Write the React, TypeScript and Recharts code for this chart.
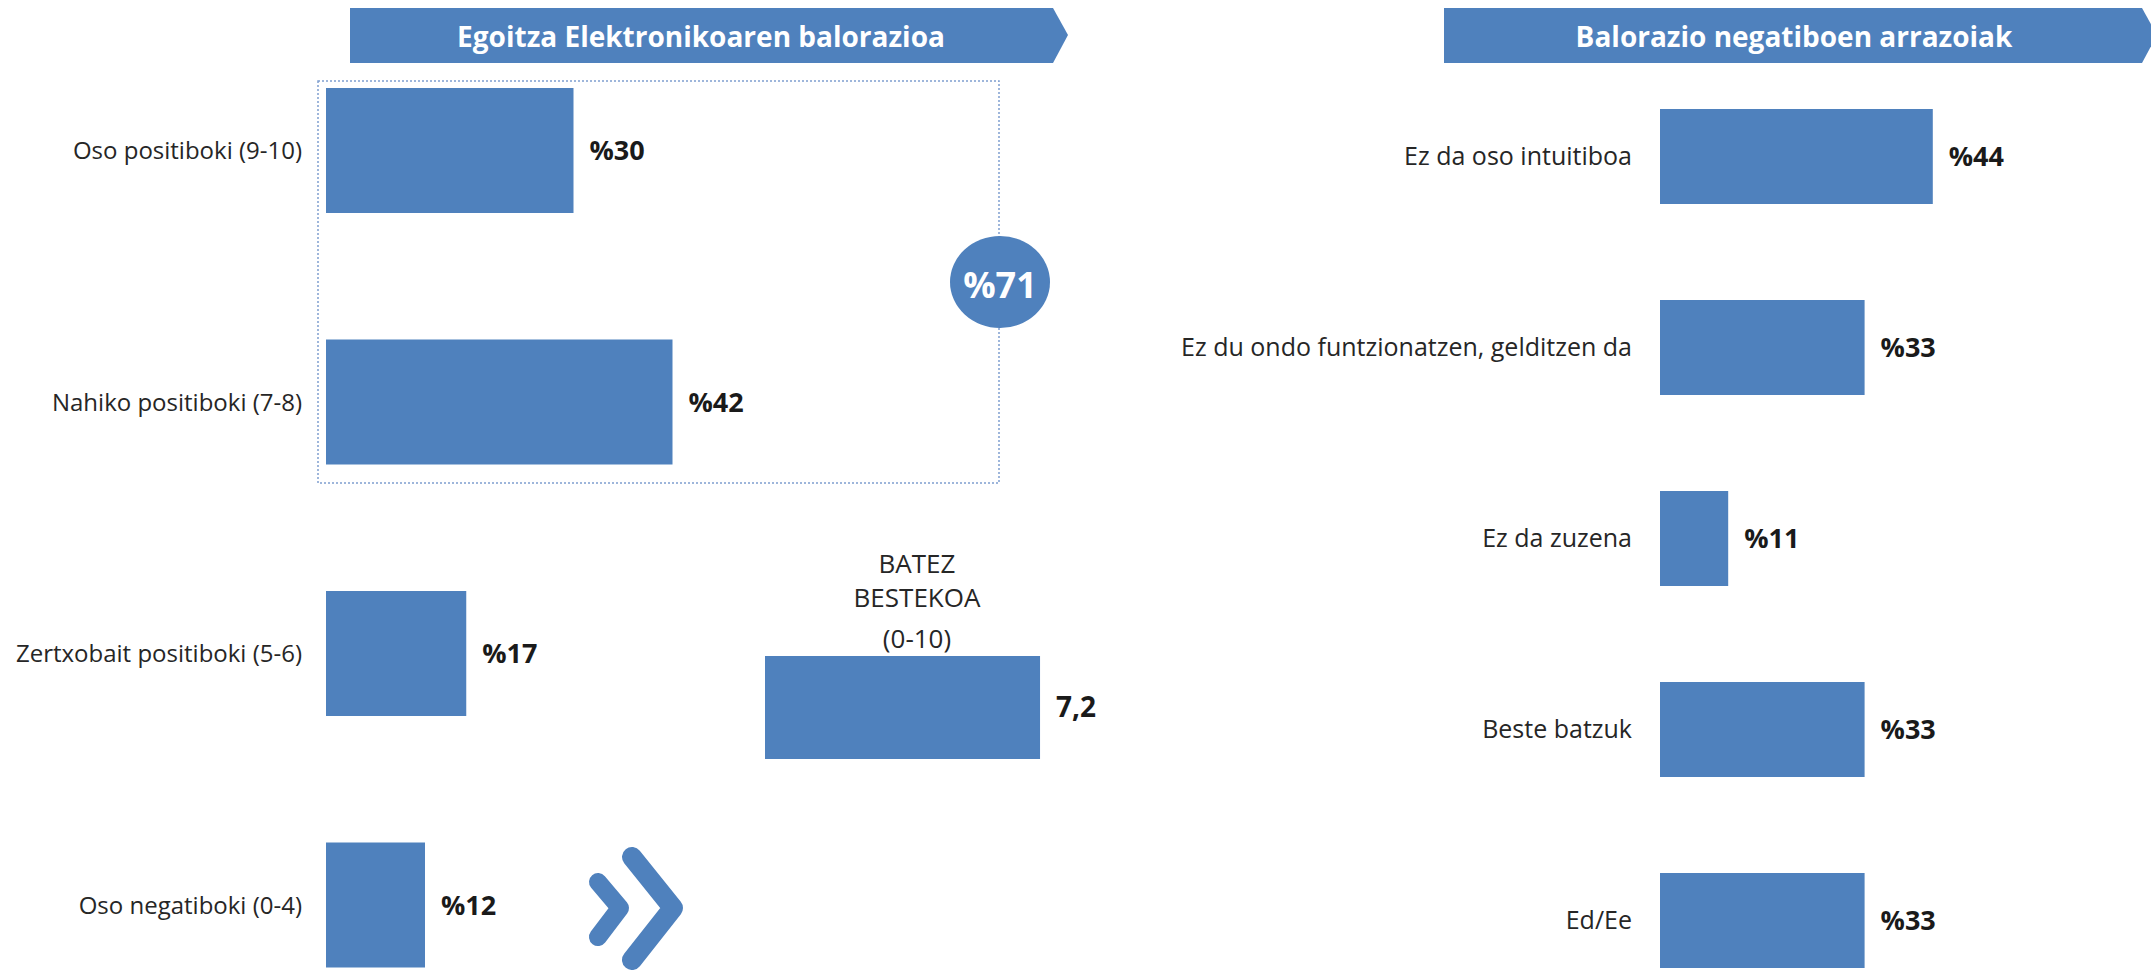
import React from 'react';
import { BarChart, Bar, XAxis, YAxis, LabelList } from 'recharts';

const FONT = '"Open Sans", "DejaVu Sans", sans-serif';
const BLUE = '#4F81BD';
const TEXT = '#262626';

// Left panel: overall rating of the e-office
const ratingTitle = 'Egoitza Elektronikoaren balorazioa';
const ratingCategories = ['Oso positiboki (9-10)', 'Nahiko positiboki (7-8)', 'Zertxobait positiboki (5-6)', 'Oso negatiboki (0-4)'];
const ratingValues = [30, 42, 17, 12];
const positiveTotal = 71;

// Middle: average score
const averageLines = ['BATEZ', 'BESTEKOA', '(0-10)'];
const averageValues = [7.2];

// Right panel: reasons for negative ratings
const reasonsTitle = 'Balorazio negatiboen arrazoiak';
const reasonCategories = ['Ez da oso intuitiboa', 'Ez du ondo funtzionatzen, gelditzen da', 'Ez da zuzena', 'Beste batzuk', 'Ed/Ee'];
const reasonValues = [44, 33, 11, 33, 33];

const ratingData = ratingCategories.map((name, i) => ({ name, value: ratingValues[i] }));
const averageData = averageValues.map((value) => ({ name: 'avg', value }));
const reasonData = reasonCategories.map((name, i) => ({ name, value: reasonValues[i] }));

const pct = (v: any) => `%${v}`;
const comma = (v: any) => String(v).replace('.', ',');

const valueStyle = { fill: '#1a1a1a', fontSize: 27, fontWeight: 700, fontFamily: FONT };

function Overlay() {
    return (
        <svg width={2151} height={970} style={{ position: 'absolute', left: 0, top: 0 }}>
            {/* title banners */}
            <polygon points="350,8 1053,8 1068,35 1053,63 350,63" fill={BLUE} />
            <text x={701} y={36} fill="#fff" fontSize={28} fontWeight={700} fontFamily={FONT} textAnchor="middle" dominantBaseline="central">
                {ratingTitle}
            </text>
            <polygon points="1444,8 2142,8 2157,35 2142,63 1444,63" fill={BLUE} />
            <text x={1794} y={36} fill="#fff" fontSize={28} fontWeight={700} fontFamily={FONT} textAnchor="middle" dominantBaseline="central">
                {reasonsTitle}
            </text>

            {/* positive group box */}
            <rect x={318} y={81} width={681} height={402} fill="none" stroke="#7f9fcf" strokeWidth={1.5} strokeDasharray="2 2" />
            <ellipse cx={1000} cy={282} rx={50} ry={46} fill={BLUE} />
            <text x={1000} y={284} fill="#fff" fontSize={36} fontWeight={700} fontFamily={FONT} textAnchor="middle" dominantBaseline="central">
                {`%${positiveTotal}`}
            </text>

            {/* average heading */}
            {averageLines.map((line, i) => (
                <text key={line} x={917} y={[563, 597, 638][i]} fill={TEXT} fontSize={26} fontFamily={FONT} textAnchor="middle" dominantBaseline="central">
                    {line}
                </text>
            ))}

            {/* chevrons */}
            <polyline points="598,882 620,908 598,937" fill="none" stroke={BLUE} strokeWidth={18} strokeLinecap="round" strokeLinejoin="round" />
            <polyline points="632,857 673,908 632,960" fill="none" stroke={BLUE} strokeWidth={20} strokeLinecap="round" strokeLinejoin="round" />
        </svg>
    );
}

export default function App() {
    return (
        <div style={{ position: 'absolute', left: 0, top: 0, width: 2151, height: 970, overflow: 'hidden', background: '#fff' }}>
            <Overlay />

            <div style={{ position: 'absolute', left: 0, top: 0 }}>
                <BarChart width={1151} height={1031} data={ratingData} layout="vertical" margin={{ top: 25, right: 0, left: 0, bottom: 0 }}>
                    <XAxis type="number" domain={[0, 100]} hide />
                    <YAxis type="category" dataKey="name" width={326} tickLine={false} axisLine={false} tickMargin={18}
                        tick={{ fill: TEXT, fontSize: 24, fontFamily: FONT }} />
                    <Bar dataKey="value" fill={BLUE} barSize={125} isAnimationActive={false}>
                        <LabelList dataKey="value" position="right" offset={16} formatter={pct} style={valueStyle} />
                    </Bar>
                </BarChart>
            </div>

            <div style={{ position: 'absolute', left: 765, top: 656 }}>
                <BarChart width={462} height={103} data={averageData} layout="vertical" barCategoryGap={0} margin={{ top: 0, right: 80, left: 0, bottom: 0 }}>
                    <XAxis type="number" domain={[0, 10]} hide />
                    <YAxis type="category" dataKey="name" hide />
                    <Bar dataKey="value" fill={BLUE} isAnimationActive={false}>
                        <LabelList dataKey="value" position="right" offset={16} formatter={comma} style={{ ...valueStyle, fontSize: 28 }} />
                    </Bar>
                </BarChart>
            </div>

            <div style={{ position: 'absolute', left: 1100, top: 0 }}>
                <BarChart width={1180} height={1016} data={reasonData} layout="vertical" margin={{ top: 61, right: 0, left: 0, bottom: 0 }}>
                    <XAxis type="number" domain={[0, 100]} hide />
                    <YAxis type="category" dataKey="name" width={560} tickLine={false} axisLine={false} tickMargin={22}
                        tick={{ fill: TEXT, fontSize: 25, fontFamily: FONT }} />
                    <Bar dataKey="value" fill={BLUE} barSize={95} isAnimationActive={false}>
                        <LabelList dataKey="value" position="right" offset={16} formatter={pct} style={valueStyle} />
                    </Bar>
                </BarChart>
            </div>
        </div>
    );
}
